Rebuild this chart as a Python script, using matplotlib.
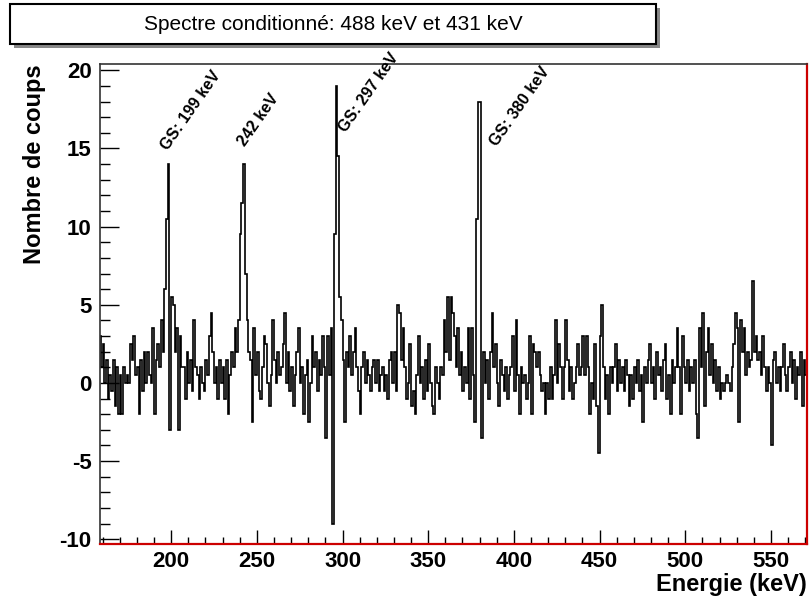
"""Spectre conditionné (488 keV et 431 keV) - histogramme style ROOT."""
import numpy as np
import matplotlib
matplotlib.use("Agg")
import matplotlib.pyplot as plt
from matplotlib.patches import Rectangle
from matplotlib.ticker import MultipleLocator

plt.rcParams["font.family"] = ["Liberation Sans", "DejaVu Sans"]
plt.rcParams["axes.unicode_minus"] = False

# contenu des canaux de 1 keV, premier canal à 158 keV
E_START = 158
counts = [
    3, 1, 2.5, 0, 1.5, -1, 0.5, -0.5, 1.5, -1.5,          # 158
    1, -2, 0.5, -2, 1, 0, 0.5, 0, 2.5, 1.5,               # 168
    3, 0.5, 1, -2, 1.5, -0.5, 2, 0, 2, 0.5,               # 178
    0, 3.5, -2, 1.5, 2.5, 1, 4, 2, 6, 10.5,               # 188
    14, -3, 5.5, 5, 2, 3.5, -3, 3, 1, 1,                  # 198
    -1, 2, 0, 1.5, -0.5, 4, 1, 0.5, -1, 1,                # 208
    0, -0.5, 1.5, 0.5, 3, 4.5, 2, 0, 1, -1,               # 218
    1.5, 0, 1, -1, 1.5, -2, 0.5, 2, 1, 3.5,               # 228
    2, 4, 9.5, 11.5, 14, 7, 4, 2, 1.5, -2.5,              # 238
    3.5, 0.5, 2, -0.5, -1, 1, 3, 2.5, 0, -1.5,            # 248
    0.5, 4, 1.5, 0, 2, 0.5, 1, 2.5, 4.5, 0,               # 258
    2, -0.5, 1, -1.5, 0.5, 2, 3.5, 0, 1, -2,              # 268
    0.5, 1.5, -2.5, 0, 3, 1, 2, -0.5, 1.5, 0.5,           # 278
    3, 1, -3.5, 3, 0.5, 3.5, -9, 9.5, 19, 14.5,           # 288
    5.5, 4, 1.5, -2.5, 2, 1, 3, 0.5, 2, 3.5,              # 298
    1, -0.5, -2, 1, 2, 0, 1.5, 0.5, -0.5, 1,              # 308
    1.5, 0, 1.5, -0.5, 0.5, 1, -0.5, 0.5, -1, 1.5,        # 318
    2, 0, 2, -0.5, 5, 4.5, 1.5, 3.5, 1, -1,               # 328
    0, 2.5, -1.5, -0.5, -2, 0.5, 3, 0, 1, -1,             # 338
    1.5, -0.5, 2.5, 0, -1.5, -2, 1, 0, -1, 1,             # 348
    0.5, 4, 2, 5.5, 1.5, 5.5, 4.5, 3, 1, 3.5,             # 358
    0.5, 2, -0.5, 1, 0, 3.5, -1, 3.5, 0.5, -2.5,          # 368
    10.5, 18, 18, -3.5, 2, 0, 1.5, -1, 2, 4.5,            # 378
    1, 2.5, 0, -1.5, 1.5, 0.5, -0.5, 1, -1, 0.5,          # 388
    1, 3, -0.5, 4, 0.5, -2, 1, 0, 0.5, -1,                # 398
    0, 3, -2, 2.5, 2, 1, 2, 0.5, -0.5, 0,                 # 408
    -2, 0, -1, 1, -1, 0.5, 4, 0, 2.5, 1,                  # 418
    -1, 1, 4, 1.5, -0.5, 1, -1, 0, 1, 2.5,                # 428
    0.5, 1, 3, 0.5, 3, 1, -2, 0, -1, 2.5,                 # 438
    -1.5, -4.5, 3, 5, 1, -1, 0.5, -2, 1, 0,               # 448
    1, 2.5, -0.5, 1.5, 0, 1, -0.5, 1.5, 0.5, -1.5,        # 458
    0.5, -1, 1, 0, 1.5, -0.5, 0.5, -2.5, 1, 0,            # 468
    1.5, 2.5, 0, 1, -1, 2, 0.5, 1, -0.5, 1.5,             # 478
    2.5, -1, 0.5, -2, 1.5, 0, 1, 3.5, 1, -2,              # 488
    3, 1, 0, 1.5, -0.5, 1, 0, 1.5, -2, -3.5,              # 498
    3.5, 1, 4.5, -1.5, 2, 3.5, 0.5, 2.5, 0, 1.5,          # 508
    -0.5, 1, -1, 0, -0.5, 0, 0.5, 0, -0.5, 1,             # 518
    2.5, 4.5, 3.5, -2.5, 4, 2, 3.5, 0.5, 2, 1,            # 528
    1.5, 6.5, 2, 3, 1.5, 2, 0.5, 3, 1, -0.5,              # 538
    1, 0, -4, 1.5, 2, 0, 1, -0.5, 1, 2.5,                 # 548
    0.5, -0.5, 1, 2, 0, 1.5, -1, 1, 0.5, 2,               # 558
    -1.5, 1.5, 0.5,                                       # 568
]

peak_labels = ["GS: 199 keV", "242 keV", "GS: 297 keV", "GS: 380 keV"]
peak_label_x = [192.4, 237.4, 296.4, 384.4]
peak_label_y = [14.7, 15.0, 15.9, 15.0]

title = "Spectre conditionné: 488 keV et 431 keV"

edges = np.arange(E_START, E_START + len(counts) + 1)

fig = plt.figure(figsize=(8.09, 5.98), dpi=100)
ax = fig.add_axes([100 / 809, 54 / 598, 707 / 809, 480 / 598])

ax.stairs(counts, edges, color="black", lw=1.2, baseline=None)

ax.set_xlim(158.5, 571)
ax.set_ylim(-10.3, 20.4)

ax.xaxis.set_major_locator(MultipleLocator(50))
ax.xaxis.set_minor_locator(MultipleLocator(10))
ax.yaxis.set_major_locator(MultipleLocator(5))
ax.yaxis.set_minor_locator(MultipleLocator(1))
ax.tick_params(axis="x", which="major", direction="in", length=10, width=1,
               labelsize=16, pad=5)
ax.tick_params(axis="x", which="minor", direction="in", length=5, width=1)
ax.tick_params(axis="y", which="major", direction="in", length=14, width=1,
               labelsize=16, pad=6)
ax.tick_params(axis="y", which="minor", direction="in", length=7, width=1)
for lab in ax.get_xticklabels() + ax.get_yticklabels():
    lab.set_fontweight("bold")

for s in ("left", "top"):
    ax.spines[s].set_color("#333333")
    ax.spines[s].set_linewidth(1.2)
for s in ("right", "bottom"):
    ax.spines[s].set_color("#cc0000")
    ax.spines[s].set_linewidth(1.6)

ax.set_xlabel("Energie (keV)", loc="right", fontsize=17, fontweight="bold",
              labelpad=1)
ax.set_ylabel("Nombre de coups", loc="top", fontsize=17, fontweight="bold",
              labelpad=10)

for lab, x, y in zip(peak_labels, peak_label_x, peak_label_y):
    ax.text(x, y, lab, rotation=55, ha="left", va="bottom", fontsize=11.5,
            fontweight="bold", clip_on=False)

# cadre du titre avec ombre
fig.patches.append(Rectangle((14 / 809, 1 - 48 / 598), 646 / 809, 40 / 598,
                             transform=fig.transFigure, facecolor="#888888",
                             edgecolor="none"))
fig.patches.append(Rectangle((10 / 809, 1 - 44 / 598), 646 / 809, 40 / 598,
                             transform=fig.transFigure, facecolor="white",
                             edgecolor="black", lw=1.5))
fig.text(333 / 809, 1 - 24 / 598, title, ha="center", va="center", fontsize=15)

fig.savefig("out.png", dpi=100)
